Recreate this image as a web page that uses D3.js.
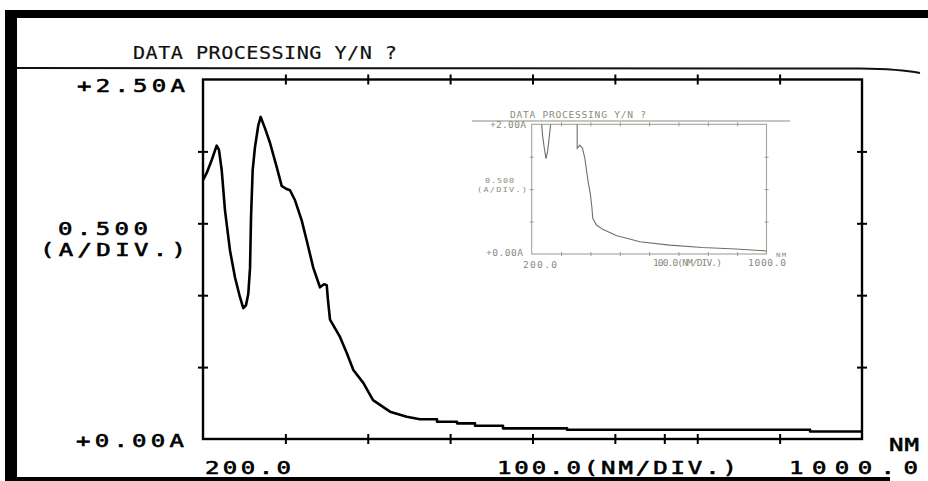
<!DOCTYPE html>
<html>
<head>
<meta charset="utf-8">
<script src="https://cdn.jsdelivr.net/npm/d3@7"></script>
<style>
  html, body { margin: 0; padding: 0; background: #fff; }
  svg { display: block; }
  text { font-family: "DejaVu Sans Mono", "Liberation Mono", monospace; }
</style>
</head>
<body>
<svg id="chart" width="928" height="481"></svg>
<script>
// ---------------- data ----------------
const titleText = "DATA PROCESSING Y/N ?";

// main spectrum: wavelength (nm) and absorbance (A)
const wavelengths = [200, 204.5, 210.6, 216.6, 219.4, 222.7, 226.7, 232.8, 238.8, 244.9,
  248.9, 252.2, 255.0, 257.1, 258.3, 260.3, 263.1, 267.1, 270.0, 275.3,
  281.3, 289.5, 295.5, 300.8, 305.6, 311.7, 319.8, 325.9, 333.9, 342.0,
  346.9, 350.2, 351.7, 354.2, 366.3, 374.4, 382.5, 394.6, 406.4, 427.0,
  447.3, 463.4, 484.1, 484.1, 508.4, 508.4, 530.2, 530.2, 564.2, 564.2,
  641.9, 641.9, 937, 937, 1000];
const absorbance = [1.80, 1.85, 1.94, 2.04, 2.01, 1.87, 1.59, 1.31, 1.125, 0.986,
  0.91, 0.93, 1.01, 1.19, 1.54, 1.87, 2.03, 2.18, 2.24, 2.16,
  2.06, 1.89, 1.76, 1.74, 1.73, 1.66, 1.52, 1.38, 1.19, 1.055,
  1.076, 1.07, 0.965, 0.83, 0.71, 0.60, 0.48, 0.39, 0.27, 0.19,
  0.155, 0.137, 0.137, 0.120, 0.120, 0.109, 0.109, 0.092, 0.092, 0.074,
  0.074, 0.064, 0.064, 0.052, 0.052];

// inset (faded pasted printout): off-scale region left as null
const insetWavelengths = [234, 237, 243, 248.6, 254, 260, 264.5, 300, 355, 355,
  364, 373, 381, 392, 400, 405, 408, 420, 442, 490, 534, 568, 670, 782, 896, 992, 1000];
const insetAbsorbance = [2.0, 1.83, 1.63, 1.47, 1.58, 1.81, 2.0, null, 2.0, 1.63,
  1.68, 1.63, 1.48, 1.12, 0.92, 0.72, 0.55, 0.45, 0.38, 0.28, 0.23, 0.19, 0.137, 0.10, 0.076, 0.05, 0.045];

// tick values
const xTickValues = [200, 300, 400, 500, 600, 700, 800, 900, 1000];
const xBottomExtra = [760];
const yTickValues = [0.5, 1.0, 1.5, 2.0];
const insetYTicks = [0.5, 1.0, 1.5];

// labels
const yTopLabel = "+2.50A", yBottomLabel = "+0.00A";
const yUnitLabel = ["0.500", "(A/DIV.)"];
const xLabels = ["200.0", "100.0(NM/DIV.)", "1000.0", "NM"];
const insetYLabels = ["+2.00A", "0.500", "(A/DIV.)", "+0.00A"];

// ---------------- drawing ----------------
const svg = d3.select("#chart");

// scan border (black edges of the photocopy)
svg.append("rect").attr("x", 5).attr("y", 10).attr("width", 923).attr("height", 8).attr("fill", "#000");
svg.append("rect").attr("x", 5).attr("y", 10).attr("width", 12).attr("height", 471).attr("fill", "#000");
svg.append("rect").attr("x", 5).attr("y", 477).attr("width", 885).attr("height", 4).attr("fill", "#000");

// stretched monospace text (dot-matrix printer look)
function stext(parent, t, lx, ly, len, fs, sx, fill, sw) {
  return parent.append("text")
    .attr("transform", `translate(${lx},${ly}) scale(${sx},1)`)
    .attr("font-size", fs)
    .attr("textLength", len / sx).attr("lengthAdjust", "spacing")
    .attr("fill", fill).attr("stroke", sw > 0 ? fill : "none").attr("stroke-width", sw)
    .text(t);
}

// title and rule under it
stext(svg, titleText, 133, 59, 264, 18, 1.12, "#111", 0.2);
const rule = d3.path();
rule.moveTo(17, 68); rule.lineTo(860, 68.5); rule.quadraticCurveTo(900, 69, 920, 73);
svg.append("path").attr("d", rule.toString()).attr("fill", "none").attr("stroke", "#111").attr("stroke-width", 2);

// main scales
const x = d3.scaleLinear().domain([200, 1000]).range([203, 862]);
const y = d3.scaleLinear().domain([0, 2.5]).range([439, 79.5]);

// frame
svg.append("rect").attr("x", x(200)).attr("y", y(2.5))
  .attr("width", x(1000) - x(200)).attr("height", y(0) - y(2.5))
  .attr("fill", "none").attr("stroke", "#000").attr("stroke-width", 2.4);

function crossTicks(g) {
  g.select(".domain").remove();
  g.selectAll(".tick line").attr("stroke", "#000").attr("stroke-width", 2);
}
const tk = 10;
svg.append("g").attr("transform", `translate(0,${y(0) - tk / 2})`)
  .call(d3.axisBottom(x).tickValues(xTickValues.slice(1, -1).concat(xBottomExtra)).tickSize(tk).tickFormat(""))
  .call(crossTicks);
svg.append("g").attr("transform", `translate(0,${y(2.5) - tk / 2})`)
  .call(d3.axisBottom(x).tickValues(xTickValues.slice(1, -1)).tickSize(tk).tickFormat(""))
  .call(crossTicks);
svg.append("g").attr("transform", `translate(${x(200) - tk / 2},0)`)
  .call(d3.axisRight(y).tickValues(yTickValues).tickSize(tk).tickFormat(""))
  .call(crossTicks);
svg.append("g").attr("transform", `translate(${x(1000) - tk / 2},0)`)
  .call(d3.axisRight(y).tickValues(yTickValues).tickSize(tk).tickFormat(""))
  .call(crossTicks);

// axis labels
const lab = (t, lx, ly, len) => stext(svg, t, lx, ly, len, 18.5, 1.3, "#000", 0.6);
lab(yTopLabel, 77, 92, 108);
lab(yUnitLabel[0], 58, 235, 90);
lab(yUnitLabel[1], 40, 256, 146);
lab(yBottomLabel, 76, 447, 108);
lab(xLabels[0], 205, 474, 86);
lab(xLabels[1], 497, 474, 240);
lab(xLabels[2], 789, 474, 129);
lab(xLabels[3], 889, 451, 30);

// ---------------- inset (faded) ----------------
const ix = d3.scaleLinear().domain([200, 1000]).range([531.7, 766.5]);
const iy = d3.scaleLinear().domain([0, 2.0]).range([254, 124.3]);
const inset = svg.append("g");
const ilab = (t, lx, ly, len, fs = 8) => stext(inset, t, lx, ly, len, fs, 1.2, "#8a8a80", 0);
ilab(titleText, 510, 118, 136);
inset.append("line").attr("x1", 472).attr("x2", 790).attr("y1", 121).attr("y2", 121)
  .attr("stroke", "#8d8d84").attr("stroke-width", 1.2);
inset.append("rect").attr("x", ix(200)).attr("y", iy(2.0))
  .attr("width", ix(1000) - ix(200)).attr("height", iy(0) - iy(2.0))
  .attr("fill", "none").attr("stroke", "#a3a39a").attr("stroke-width", 1.1);
const iTick = 4;
function fadedTicks(g) {
  g.select(".domain").remove();
  g.selectAll(".tick line").attr("stroke", "#9a9a90").attr("stroke-width", 1);
}
inset.append("g").attr("transform", `translate(0,${iy(0) - iTick / 2})`)
  .call(d3.axisBottom(ix).tickValues(xTickValues.slice(1, -1)).tickSize(iTick).tickFormat(""))
  .call(fadedTicks);
inset.append("g").attr("transform", `translate(0,${iy(2.0) - iTick / 2})`)
  .call(d3.axisBottom(ix).tickValues(xTickValues.slice(1, -1)).tickSize(iTick).tickFormat(""))
  .call(fadedTicks);
inset.append("g").attr("transform", `translate(${ix(200) - iTick / 2},0)`)
  .call(d3.axisRight(iy).tickValues(insetYTicks).tickSize(iTick).tickFormat(""))
  .call(fadedTicks);
inset.append("g").attr("transform", `translate(${ix(1000) - iTick / 2},0)`)
  .call(d3.axisRight(iy).tickValues(insetYTicks).tickSize(iTick).tickFormat(""))
  .call(fadedTicks);
ilab(insetYLabels[0], 490, 128, 36);
ilab(insetYLabels[1], 485, 183, 29, 7);
ilab(insetYLabels[2], 477, 192, 50, 7);
ilab(insetYLabels[3], 486, 256, 37);
ilab(xLabels[0], 523, 268, 34);
ilab(xLabels[1], 653, 266, 69);
ilab(xLabels[2], 748, 266, 38);
ilab(xLabels[3], 776, 257, 10, 6);

const insetData = insetWavelengths.map((w, i) => ({ w, a: insetAbsorbance[i] }));
inset.append("path").datum(insetData)
  .attr("d", d3.line().defined(d => d.a !== null).x(d => ix(d.w)).y(d => iy(d.a)))
  .attr("fill", "none").attr("stroke", "#6f6f68").attr("stroke-width", 1.1);

// ---------------- main spectrum ----------------
const mainData = wavelengths.map((w, i) => ({ w, a: absorbance[i] }));
svg.append("path").datum(mainData)
  .attr("d", d3.line().x(d => x(d.w)).y(d => y(d.a)))
  .attr("fill", "none").attr("stroke", "#000").attr("stroke-width", 2.6)
  .attr("stroke-linejoin", "round");
</script>
</body>
</html>
